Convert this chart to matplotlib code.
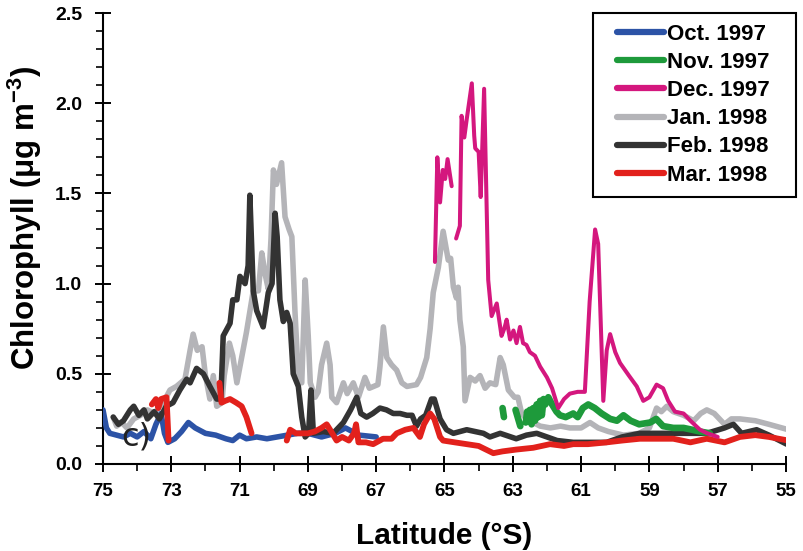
import numpy as np
import matplotlib
matplotlib.use("Agg")
import matplotlib.pyplot as plt
from matplotlib.ticker import MultipleLocator
from matplotlib.patches import Rectangle

# values; None breaks a line into pieces
oct_lat = [75.0, 74.9, 74.8, 74.6, 74.4, 74.2, 74.0, 73.8, 73.6, 73.45, 73.3, 73.2, 73.1, 72.9,
           72.7, 72.5, 72.3, 72.0, 71.7, 71.4, 71.2, 71.0, 70.8, 70.5, 70.2, 69.9, 69.6, 69.3,
           69.0, 68.6, 68.2, 67.9, 67.5, 67.0]
oct_chl = [0.30, 0.20, 0.17, 0.16, 0.15, 0.17, 0.15, 0.18, 0.14, 0.22, 0.28, 0.17, 0.12, 0.14,
           0.18, 0.23, 0.20, 0.17, 0.16, 0.14, 0.13, 0.16, 0.14, 0.15, 0.14, 0.15, 0.16, 0.17,
           0.17, 0.15, 0.17, 0.20, 0.16, 0.15]

nov_lat = [63.30, 63.26, None, 62.92, 62.78, None,
           62.62, 62.58, 62.55, 62.50, 62.45, 62.40, 62.35, 62.30, 62.25, 62.20, 62.15, 62.10,
           62.05, 61.96, 61.85, 61.72, 61.62, 61.45, 61.23, 61.10, 60.95, 60.79, 60.60, 60.40,
           60.15, 59.95, 59.76, 59.55, 59.30, 58.98, 58.80, 58.60, 58.30, 58.00, 57.75, 57.52,
           57.23]
nov_chl = [0.31, 0.26, None, 0.30, 0.21, None,
           0.23, 0.29, 0.24, 0.30, 0.22, 0.31, 0.24, 0.33, 0.26, 0.35, 0.27, 0.36,
           0.33, 0.37, 0.33, 0.29, 0.27, 0.26, 0.28, 0.26, 0.31, 0.33, 0.31, 0.28,
           0.25, 0.24, 0.27, 0.24, 0.22, 0.23, 0.25, 0.21, 0.20, 0.20, 0.19, 0.18,
           0.17]

dec_lat = [65.28, 65.21, 65.13, 65.05, 64.98, 64.91, 64.79, None,
           64.66, 64.55, 64.50, 64.42, 64.35, 64.20, 64.13, 64.10, 64.00, 63.94, 63.84, 63.72,
           63.62, 63.47, 63.33, 63.25, 63.18, 63.08, 62.98, 62.89, 62.79, 62.70, 62.60, 62.50,
           62.35, 62.20, 62.00, 61.85, 61.67, 61.50, 61.33, 61.10, 60.89, 60.75, 60.59, 60.50,
           60.35, 60.25, 60.15, 60.00, 59.86, 59.60, 59.37, 59.18, 59.00, 58.79, 58.60, 58.45,
           58.25, 58.00, 57.80, 57.52, 57.30, 57.00]
dec_chl = [1.12, 1.70, 1.45, 1.63, 1.58, 1.69, 1.54, None,
           1.25, 1.32, 1.93, 1.81, 1.91, 2.11, 1.82, 1.75, 1.73, 1.48, 2.08, 1.02,
           0.82, 0.89, 0.71, 0.75, 0.80, 0.69, 0.74, 0.67, 0.76, 0.67, 0.66, 0.62,
           0.60, 0.54, 0.48, 0.42, 0.31, 0.36, 0.39, 0.40, 0.40, 0.90, 1.30, 1.22,
           0.35, 0.63, 0.72, 0.62, 0.56, 0.49, 0.43, 0.35, 0.37, 0.44, 0.42, 0.35,
           0.29, 0.28, 0.24, 0.19, 0.17, 0.15]

jan_lat = [74.7, 74.6, 74.45, 74.3, 74.1, 73.9, 73.7, 73.5, 73.3, 73.15, 73.04, 72.85, 72.6,
           72.45, 72.36, 72.24, 72.1, 72.0, 71.87, 71.77, 71.67, 71.52, 71.45, 71.3, 71.2, 71.08,
           70.95, 70.8, 70.6, 70.45, 70.35, 70.25, 70.16, 70.08, 70.01, 69.92, 69.77, 69.67,
           69.55, 69.47, 69.38, 69.28, 69.18, 69.08, 68.99, 68.93, 68.79, 68.7, 68.6, 68.45,
           68.35, 68.3, 68.16, 67.96, 67.85, 67.67, 67.52, 67.33, 67.2, 66.95, 66.89, 66.79,
           66.69, 66.55, 66.4, 66.25, 66.1, 65.82, 65.7, 65.52, 65.42, 65.33, 65.18, 65.04,
           64.89, 64.82, 64.74, 64.65, 64.6, 64.55, 64.45, 64.4, 64.25, 64.1, 63.96, 63.81,
           63.67, 63.5, 63.37, 63.28, 63.13, 62.95, 62.85, 62.74, 62.55, 62.4, 62.2, 61.9,
           61.6, 61.33, 61.0, 60.74, 60.5, 60.2, 59.76, 59.3, 59.0, 58.79, 58.65, 58.49,
           58.3, 58.0, 57.7, 57.5, 57.32, 57.1, 56.8, 56.6, 56.35, 55.9, 55.5, 54.93]
jan_chl = [0.26, 0.21, 0.23, 0.20, 0.25, 0.27, 0.30, 0.28, 0.33, 0.37, 0.41, 0.43, 0.47,
           0.63, 0.72, 0.63, 0.65, 0.49, 0.36, 0.49, 0.32, 0.34, 0.49, 0.67, 0.60, 0.45,
           0.58, 0.73, 0.96, 0.96, 1.17, 1.05, 0.97, 1.25, 1.63, 1.55, 1.67, 1.37,
           1.30, 1.26, 0.85, 0.48, 0.45, 1.02, 0.71, 0.45, 0.37, 0.40, 0.55, 0.67,
           0.55, 0.37, 0.34, 0.45, 0.39, 0.45, 0.37, 0.48, 0.42, 0.44, 0.54, 0.76,
           0.59, 0.55, 0.52, 0.45, 0.43, 0.44, 0.48, 0.59, 0.75, 0.95, 1.09, 1.29,
           1.13, 1.14, 0.98, 0.92, 0.98, 0.80, 0.65, 0.35, 0.48, 0.46, 0.49, 0.42,
           0.45, 0.44, 0.59, 0.55, 0.41, 0.37, 0.37, 0.28, 0.24, 0.23, 0.21, 0.20,
           0.21, 0.20, 0.20, 0.23, 0.20, 0.18, 0.16, 0.17, 0.20, 0.31, 0.29, 0.32,
           0.29, 0.27, 0.24, 0.28, 0.30, 0.28, 0.22, 0.25, 0.25, 0.24, 0.22, 0.19]

feb_lat = [74.7, 74.55, 74.4, 74.2, 74.1, 73.95, 73.8, 73.7, 73.5, 73.35, 73.15, 72.95, 72.75,
           72.55, 72.45, 72.26, 72.06, 71.87, 71.67, 71.55, 71.48, 71.28, 71.2, 71.08, 70.99,
           70.84, 70.75, 70.70, 70.60, 70.50, 70.31, 70.16, 70.05, 69.96, 69.90, 69.82, 69.72,
           69.62, 69.52, 69.43, 69.28, 69.18, 69.08, 68.98, 68.91, 68.84, 68.55, 68.26, 67.96,
           67.75, 67.57, 67.45, 67.28, 67.10, 66.89, 66.70, 66.50, 66.30, 66.10, 65.95, 65.82,
           65.70, 65.55, 65.38, 65.30, 65.13, 64.94, 64.74, 64.35, 63.86, 63.67, 63.37, 62.90,
           62.60, 62.30, 62.00, 61.70, 61.23, 60.80, 60.25, 59.80, 59.28, 58.80, 58.30, 57.80,
           57.32, 56.80, 56.54, 56.30, 55.86, 55.50, 54.98]
feb_chl = [0.26, 0.22, 0.24, 0.30, 0.32, 0.27, 0.30, 0.25, 0.29, 0.25, 0.32, 0.34, 0.41,
           0.47, 0.45, 0.53, 0.50, 0.43, 0.36, 0.36, 0.71, 0.78, 0.91, 0.91, 1.04,
           1.00, 1.10, 1.49, 0.96, 0.85, 0.76, 0.95, 1.00, 1.39, 1.26, 0.91, 0.79,
           0.84, 0.78, 0.50, 0.43, 0.26, 0.15, 0.17, 0.41, 0.17, 0.18, 0.17, 0.23,
           0.30, 0.37, 0.28, 0.26, 0.28, 0.31, 0.30, 0.28, 0.28, 0.27, 0.27, 0.21,
           0.25, 0.27, 0.36, 0.36, 0.25, 0.19, 0.17, 0.19, 0.17, 0.15, 0.17, 0.14,
           0.16, 0.17, 0.15, 0.13, 0.12, 0.12, 0.12, 0.15, 0.17, 0.17, 0.17, 0.17,
           0.17, 0.20, 0.22, 0.17, 0.19, 0.16, 0.11]

mar_lat = [73.57, 73.45, 73.38, 73.30, 73.14, 73.08, None,
           71.59, 71.53, 71.42, 71.28, 71.10, 70.94, 70.80, 70.65, None,
           69.62, 69.52, 69.35, 69.20, 69.00, 68.80, 68.60, 68.45, 68.35, 68.16, 68.00, 67.80,
           67.65, 67.59, 67.52, 67.30, 67.09, 66.80, 66.55, 66.40, 66.15, 65.91, 65.72, 65.60,
           65.42, 65.30, 65.13, 65.04, 64.70, 64.35, 64.00, 63.57, 63.30, 62.90, 62.40, 61.91,
           61.50, 61.23, 60.80, 60.25, 59.80, 59.28, 58.80, 58.30, 57.80, 57.32, 56.80, 56.35,
           55.90, 55.50, 54.93]
mar_chl = [0.33, 0.36, 0.31, 0.36, 0.37, 0.13, None,
           0.45, 0.34, 0.35, 0.36, 0.34, 0.32, 0.26, 0.17, None,
           0.13, 0.19, 0.17, 0.17, 0.17, 0.18, 0.20, 0.22, 0.19, 0.13, 0.15, 0.13,
           0.17, 0.22, 0.12, 0.12, 0.11, 0.14, 0.14, 0.17, 0.19, 0.20, 0.15, 0.22,
           0.28, 0.25, 0.15, 0.13, 0.12, 0.11, 0.10, 0.06, 0.07, 0.08, 0.09, 0.11,
           0.10, 0.11, 0.11, 0.12, 0.13, 0.14, 0.14, 0.14, 0.12, 0.14, 0.12, 0.15,
           0.16, 0.15, 0.13]


def arr(v):
    return np.array([np.nan if x is None else x for x in v], dtype=float)


plt.rcParams['font.family'] = ['Liberation Sans', 'DejaVu Sans']
plt.rcParams['font.weight'] = 'bold'
plt.rcParams['mathtext.fontset'] = 'custom'
plt.rcParams['mathtext.rm'] = 'Liberation Sans:bold'
plt.rcParams['mathtext.default'] = 'rm'

W, H = 804, 551
fig = plt.figure(figsize=(W / 100, H / 100), dpi=100)
ax = fig.add_axes([103 / W, 87 / H, 683 / W, 451 / H])

line_kw = dict(solid_capstyle='round', solid_joinstyle='round')
# drawing order differs from legend order, so set zorder
ax.plot(arr(oct_lat), arr(oct_chl), color='#2c53a6', lw=4.0, label='Oct. 1997', zorder=3, **line_kw)
ax.plot(arr(nov_lat), arr(nov_chl), color='#1e9a3b', lw=4.8, label='Nov. 1997', zorder=5, **line_kw)
ax.plot(arr(dec_lat), arr(dec_chl), color='#d4177e', lw=2.9, label='Dec. 1997', zorder=6, **line_kw)
ax.plot(arr(jan_lat), arr(jan_chl), color='#b4b4b8', lw=4.0, label='Jan. 1998', zorder=2, **line_kw)
ax.plot(arr(feb_lat), arr(feb_chl), color='#333333', lw=4.0, label='Feb. 1998', zorder=4, **line_kw)
ax.plot(arr(mar_lat), arr(mar_chl), color='#e2211c', lw=4.2, label='Mar. 1998', zorder=5, **line_kw)

ax.text(74.03, 0.15, 'c)', fontsize=23, fontweight='normal', family='DejaVu Sans',
        color='#222222', ha='center', va='center', zorder=7)

ax.set_xlim(75, 55)
ax.set_ylim(0, 2.5)
ax.set_xticks(np.arange(75, 54, -2))
ax.xaxis.set_minor_locator(MultipleLocator(1))
ax.yaxis.set_major_locator(MultipleLocator(0.5))
ax.yaxis.set_minor_locator(MultipleLocator(0.1))
ax.yaxis.set_major_formatter(plt.FormatStrFormatter('%.1f'))

for s in ['top', 'right']:
    ax.spines[s].set_visible(False)
for s in ['left', 'bottom']:
    ax.spines[s].set_linewidth(1.5)

ax.tick_params(which='major', direction='inout', length=11, width=1.4, labelsize=13.5)
ax.tick_params(which='minor', direction='out', length=5, width=1.2)
ax.tick_params(axis='x', which='major', pad=8)
ax.tick_params(axis='y', which='major', labelsize=14, pad=9.5)

ax.set_xlabel('Latitude (°S)', fontsize=21.5, fontweight='bold', labelpad=16)
ax.set_ylabel('Chlorophyll (μg m$^{-3}$)', fontsize=22.5, fontweight='bold')
ax.yaxis.set_label_coords((44 - 103) / 683, 0.545)

# legend frame drawn by hand: the original has wide side margins
leg = ax.legend(loc='upper left', bbox_to_anchor=(617 / W, 1 - 24 / H),
                bbox_transform=fig.transFigure, borderaxespad=0, borderpad=0,
                frameon=False, fontsize=16, handlelength=2.1,
                handletextpad=0.15, labelspacing=0.32)
for h in leg.get_lines():
    h.set_linewidth(4.5)
    h.set_solid_capstyle('round')
leg.set_zorder(10)
ax.add_patch(Rectangle((593 / W, 1 - 197 / H), 203 / W, 184 / H,
                       transform=fig.transFigure, clip_on=False, facecolor='white',
                       edgecolor='black', linewidth=1.5, zorder=9))

fig.savefig('out.png', dpi=100)
